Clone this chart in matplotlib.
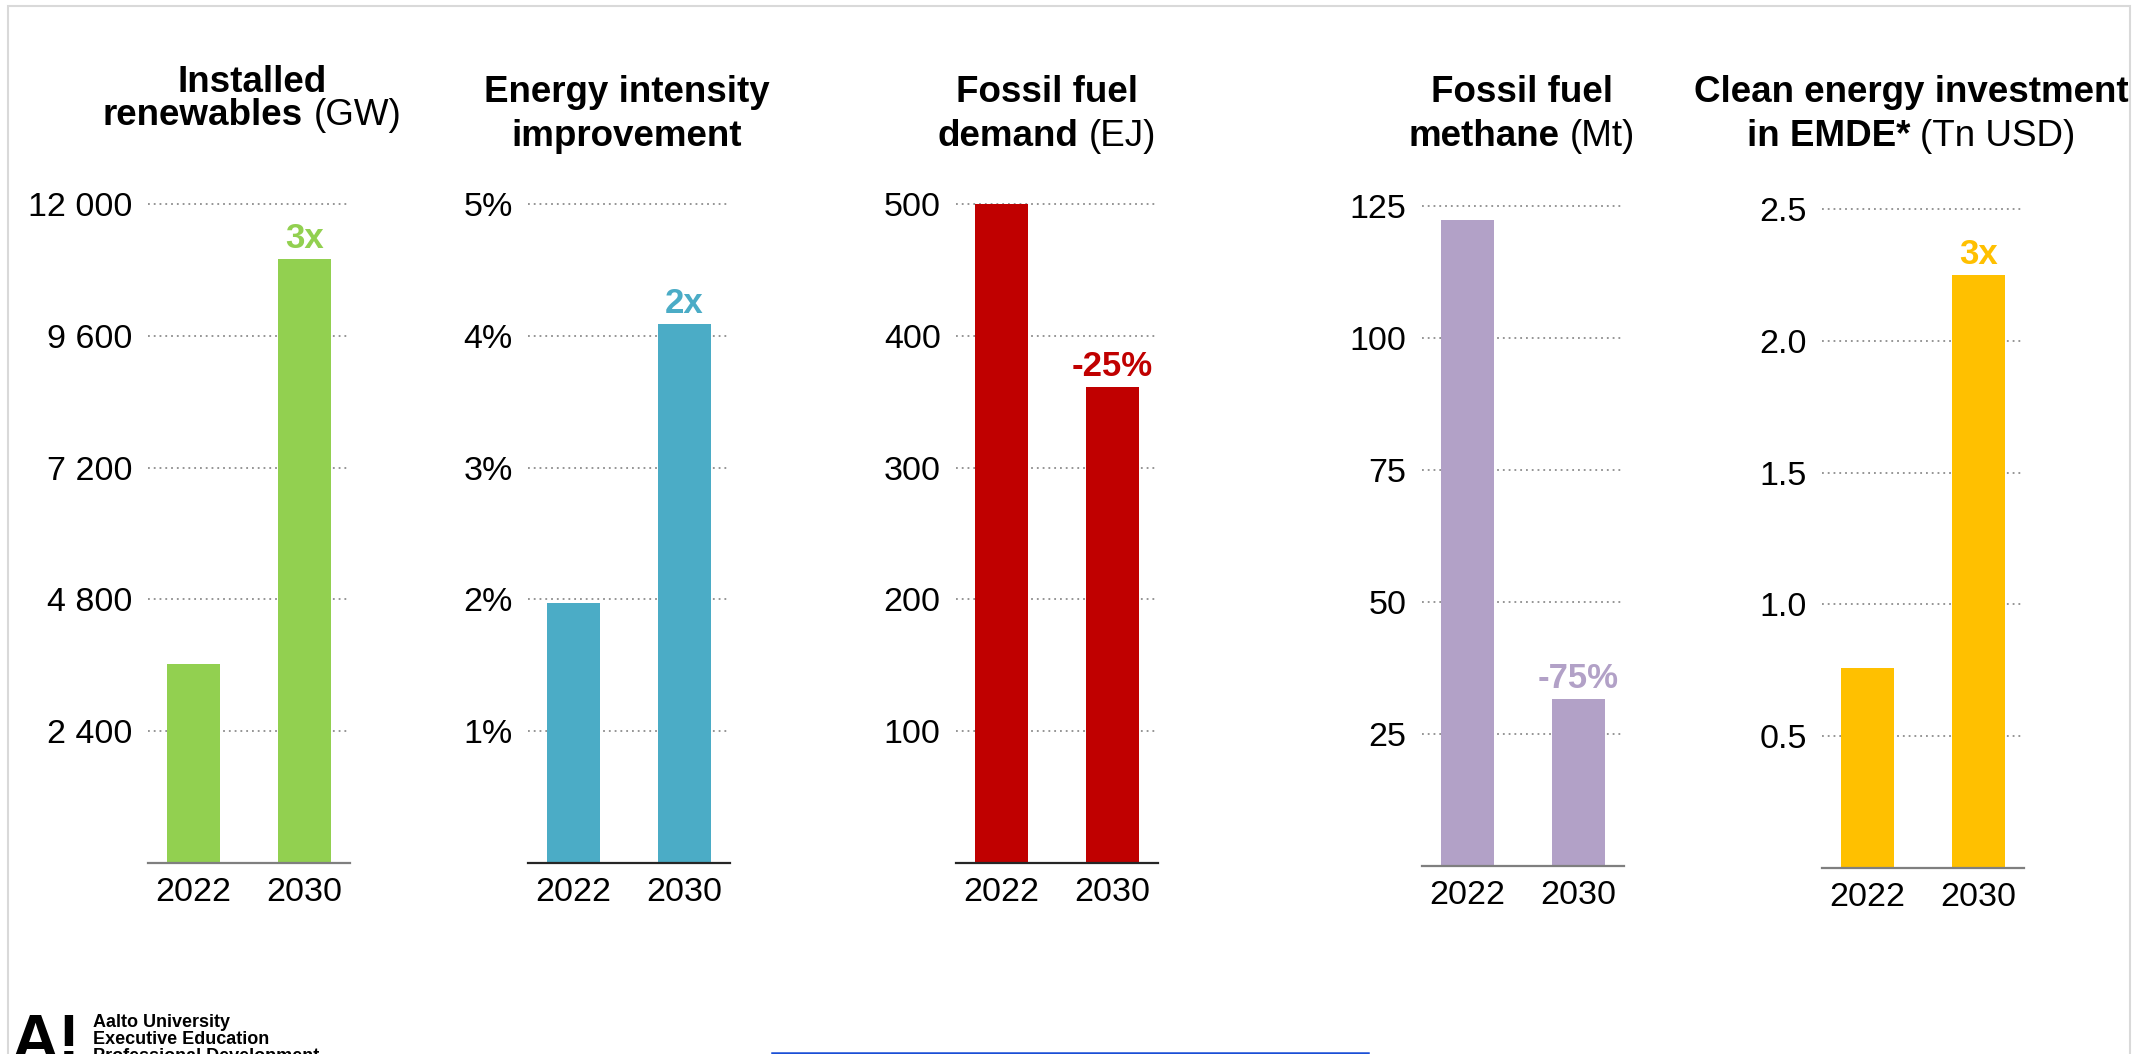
import matplotlib
matplotlib.use("Agg")
import matplotlib.pyplot as plt
from matplotlib.lines import Line2D
from matplotlib.patches import Rectangle

plt.rcParams['font.family'] = ['Liberation Sans', 'DejaVu Sans']

W, H = 2148, 1054

# data
years = ["2022", "2030"]
renewables_gw = [3630, 11000]
intensity_pct = [1.97, 4.09]
fossil_ej = [500, 361]
methane_mt = [122.3, 31.6]
investment_tn = [0.76, 2.25]

renew_ticks = [2400, 4800, 7200, 9600, 12000]
renew_labels = ["2 400", "4 800", "7 200", "9 600", "12 000"]
intensity_ticks = [1, 2, 3, 4, 5]
intensity_labels = ["1%", "2%", "3%", "4%", "5%"]
fossil_ticks = [100, 200, 300, 400, 500]
fossil_labels = ["100", "200", "300", "400", "500"]
methane_ticks = [25, 50, 75, 100, 125]
methane_labels = ["25", "50", "75", "100", "125"]
invest_ticks = [0.5, 1.0, 1.5, 2.0, 2.5]
invest_labels = ["0.5", "1.0", "1.5", "2.0", "2.5"]

change_labels = ["3x", "2x", "-25%", "-75%", "3x"]
bar_colors = ["#92d050", "#4bacc6", "#c00000", "#b2a1c7", "#ffc000"]

titles = [
    ([("Installed", "bold")], [("renewables", "bold"), ("(GW)", "normal")]),
    ([("Energy intensity", "bold")], [("improvement", "bold")]),
    ([("Fossil fuel", "bold")], [("demand", "bold"), ("(EJ)", "normal")]),
    ([("Fossil fuel", "bold")], [("methane", "bold"), ("(Mt)", "normal")]),
    ([("Clean energy investment", "bold")], [("in EMDE*", "bold"), ("(Tn USD)", "normal")]),
]

values = [renewables_gw, intensity_pct, fossil_ej, methane_mt, investment_tn]
ticks = [renew_ticks, intensity_ticks, fossil_ticks, methane_ticks, invest_ticks]
labels = [renew_labels, intensity_labels, fossil_labels, methane_labels, invest_labels]

# layout in pixels (top-origin): axes left, top gridline y, baseline y
lefts = [148, 528, 956, 1422, 1822]
grid_tops = [204, 204, 204, 206, 209]
bases = [863, 863, 863, 866, 868]
base_colors = ["#7f7f7f", "#262626", "#262626", "#7f7f7f", "#7f7f7f"]
title_cx = [252, 627, 1047, 1522, 1911]
title_y1 = [92, 102, 102, 102, 102]
title_y2 = [125, 146, 146, 146, 146]

fig = plt.figure(figsize=(W / 100, H / 100), dpi=100)
fig.patch.set_facecolor("white")
renderer = fig.canvas.get_renderer()


def fy(y):
    return 1 - y / H


def title_line(cx, y, parts, size=26.5):
    # centre a line made of bold and regular pieces
    arts = [fig.text(0, 0, s, fontsize=size, weight=w, ha="left", va="baseline")
            for s, w in parts]
    widths = [t.get_window_extent(renderer).width for t in arts]
    space = size * 0.278 * fig.dpi / 72
    total = sum(widths) + space * (len(parts) - 1)
    x = cx - total / 2
    for t, wd in zip(arts, widths):
        t.set_position((x / W, fy(y)))
        x += wd + space


ext = 1.03
for i in range(5):
    base, top = bases[i], grid_tops[i]
    h = (base - top) * ext
    ax = fig.add_axes([lefts[i] / W, fy(base), 202 / W, h / H])
    ymax = ticks[i][-1]
    for t in ticks[i]:
        ax.axhline(t, color="#8c8c8c", lw=1.3, ls=(0, (1, 2.2)), zorder=0)
    ax.bar([0, 1], values[i], width=0.48, color=bar_colors[i], zorder=2)
    ax.set_xlim(-0.41, 1.41)
    ax.set_ylim(0, ymax * ext)
    ax.set_xticks([0, 1], years)
    ax.set_yticks(ticks[i], labels[i])
    ax.tick_params(axis="both", length=0, labelsize=24.5, colors="black")
    ax.tick_params(axis="y", pad=11)
    ax.tick_params(axis="x", pad=10)
    for s in ["top", "left", "right"]:
        ax.spines[s].set_visible(False)
    ax.spines["bottom"].set_color(base_colors[i])
    ax.spines["bottom"].set_linewidth(1.6)
    ax.set_facecolor("none")
    ax.annotate(change_labels[i], xy=(1, values[i][1]), xytext=(0, 15),
                textcoords="offset points", ha="center", va="center",
                color=bar_colors[i], fontsize=25, weight="bold")

    l1, l2 = titles[i]
    title_line(title_cx[i], title_y1[i], l1)
    title_line(title_cx[i], title_y2[i], l2)

# slide border
fig.patches.append(Rectangle((8 / W, -0.05), (2130 - 8) / W, fy(6) + 0.05,
                             transform=fig.transFigure, fill=False,
                             edgecolor="#d9d9d9", lw=1.5))

# footer logo and text (cut off by the bottom edge, as in the slide)
fig.text(11 / W, fy(1060), "A!", fontsize=47, weight="bold", ha="left", va="baseline")
for s, y in zip(["Aalto University", "Executive Education", "Professional Development"],
                [1027, 1044, 1061]):
    fig.text(93 / W, fy(y), s, fontsize=13, weight="bold", ha="left", va="baseline")

fig.lines.append(Line2D([772 / W, 1368 / W], [fy(1052.5), fy(1052.5)],
                        transform=fig.transFigure, color="#1a4fd6", lw=1.8))

fig.savefig("out.png", dpi=100, facecolor="white")
